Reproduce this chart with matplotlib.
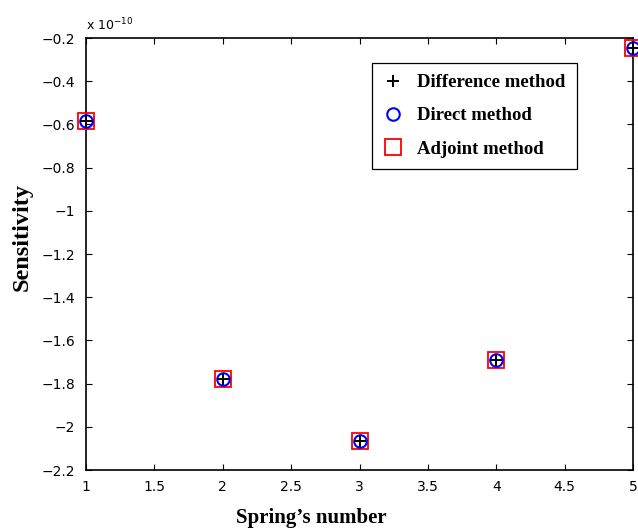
import matplotlib.pyplot as plt
import numpy as np

# spring numbers and sensitivity values (x 1e-10)
springs = [1, 2, 3, 4, 5]
diff_method = [-0.585, -1.778, -2.068, -1.690, -0.248]
direct_method = [-0.585, -1.778, -2.068, -1.690, -0.248]
adjoint_method = [-0.585, -1.778, -2.068, -1.690, -0.248]

fig = plt.figure(figsize=(6.38, 5.30), dpi=100)
ax = fig.add_axes([86/638, 1 - 470/530, (633 - 86)/638, (470 - 38)/530])

# values drawn in units of 1e-10, exponent shown as text like MATLAB
ax.plot(springs, adjoint_method, 's', mfc='none', mec='red', ms=11, mew=1.3,
        label='Adjoint method', clip_on=False, zorder=3)
ax.plot(springs, direct_method, 'o', mfc='none', mec='blue', ms=9, mew=1.5,
        label='Direct method', clip_on=False, zorder=4)
ax.plot(springs, diff_method, '+', color='black', ms=9, mew=1.4,
        label='Difference method', clip_on=False, zorder=5)

ax.set_xlim(1, 5)
ax.set_ylim(-2.2, -0.2)
ax.set_xticks(np.arange(1, 5.01, 0.5))
ax.set_yticks(np.arange(-2.2, -0.19, 0.2))
ax.set_xticklabels(['1', '1.5', '2', '2.5', '3', '3.5', '4', '4.5', '5'])
ax.set_yticklabels(['\u22122.2', '\u22122', '\u22121.8', '\u22121.6', '\u22121.4', '\u22121.2',
                    '\u22121', '\u22120.8', '\u22120.6', '\u22120.4', '\u22120.2'])
ax.tick_params(direction='in', top=True, right=True, labelsize=10, length=4, width=0.8)
ax.tick_params(axis='y', pad=8)
ax.tick_params(axis='x', pad=7)
for s in ax.spines.values():
    s.set_linewidth(1.2)

ax.text(0.0, 1.012, r'x 10$^{-10}$', transform=ax.transAxes, fontsize=9,
        ha='left', va='bottom')

ax.set_xlabel("Spring\u2019s number", fontsize=15, fontweight='bold',
              family='Liberation Serif')
ax.set_ylabel('Sensitivity', fontsize=17.5, fontweight='bold',
              family='Liberation Serif')
ax.xaxis.set_label_coords(0.411, -0.088)
ax.yaxis.set_label_coords(-0.097, 0.539)

handles, labels = ax.get_legend_handles_labels()
leg = ax.legend(handles[::-1], labels[::-1], loc='upper left',
                bbox_to_anchor=((372 - 86)/547, 1 - (63 - 38)/432),
                prop={'family': 'Liberation Serif', 'weight': 'bold', 'size': 13.5},
                fancybox=False, edgecolor='black', framealpha=1,
                handlelength=1.0, handletextpad=0.8, borderpad=0.6,
                labelspacing=0.85, borderaxespad=0)
leg.get_frame().set_linewidth(0.9)

plt.savefig('out.png', dpi=100)
plt.close()
